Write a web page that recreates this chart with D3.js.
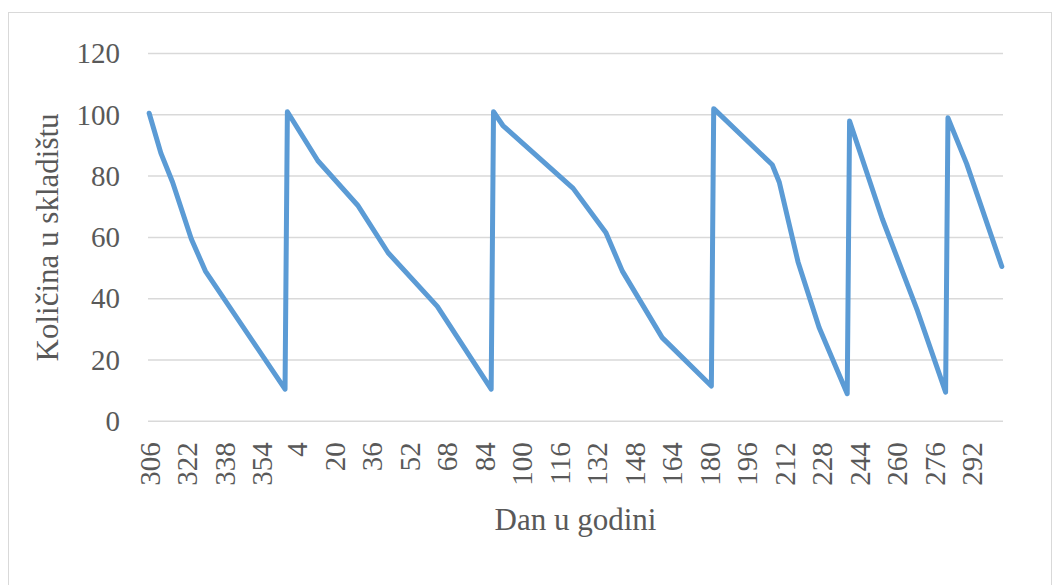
<!DOCTYPE html>
<html>
<head>
<meta charset="utf-8">
<script src="https://cdn.jsdelivr.net/npm/d3@7"></script>
<style>
  body { margin: 0; background: #fff; }
  text { font-family: "Liberation Serif", "Times New Roman", serif; fill: #595959; }
</style>
</head>
<body>
<div id="chart"></div>
<script>
// days of the year on the category axis: 306..365, then 1..305
var days = d3.range(306, 366).concat(d3.range(1, 306));
var tickDays = [306, 322, 338, 354, 4, 20, 36, 52, 68, 84, 100, 116, 132, 148, 164, 180, 196, 212, 228, 244, 260, 276, 292];
var yTicks = [0, 20, 40, 60, 80, 100, 120];

// stock level at the corners of the line
var keyDays = [306, 311, 316, 324, 330, 364, 365, 13, 30, 43, 64, 87, 88, 92, 122, 136, 143, 160, 181, 182, 207, 210, 218, 227, 239, 240, 254, 269, 281, 282, 290, 305];
var stock   = [100.5, 87.5, 78, 59.5, 49, 10.5, 101, 85, 70.5, 55, 37.5, 10.5, 101, 96.5, 76, 61.5, 49, 27.3, 11.5, 102, 83.7, 78, 52, 30.6, 9, 98, 66, 36, 9.5, 99, 84, 50.5];

var xTitle = "Dan u godini";
var yTitle = "Količina u skladištu";

(function() {
  var margin = { top: 53.5, left: 148, right: 61, bottom: 163 },
    width = 1064 - margin.left - margin.right,
    height = 585 - margin.top - margin.bottom - 0.7;

  var svg = d3.select("#chart")
    .append("svg")
    .attr("width", 1064)
    .attr("height", 585);

  svg.append("rect")
    .attr("x", 8.5).attr("y", 12.5)
    .attr("width", 1043).attr("height", 620)
    .attr("fill", "none")
    .attr("stroke", "#D9D9D9");

  var g = svg.append("g")
    .attr("transform", "translate(" + margin.left + "," + margin.top + ")");

  var xPositionScale = d3.scalePoint().domain(days).range([0, width]).padding(0.5);
  var yPositionScale = d3.scaleLinear().domain([0, 120]).range([height, 0]);

  // gridlines
  g.append("g")
    .attr("class", "grid")
    .selectAll("line")
    .data(yTicks)
    .enter().append("line")
    .attr("x1", 0).attr("x2", width)
    .attr("y1", function(d) { return yPositionScale(d); })
    .attr("y2", function(d) { return yPositionScale(d); })
    .attr("stroke", "#D9D9D9")
    .attr("stroke-width", 1.5);

  var yAxis = d3.axisLeft(yPositionScale).tickValues(yTicks).tickSize(0).tickPadding(28);
  var yg = g.append("g").attr("class", "axis y-axis").call(yAxis);
  yg.select(".domain").remove();
  yg.selectAll("text")
    .attr("font-size", 29)
    .attr("font-family", "Liberation Serif")
    .attr("fill", "#595959");

  var xAxis = d3.axisBottom(xPositionScale).tickValues(tickDays).tickSize(0);
  var xg = g.append("g")
    .attr("class", "axis x-axis")
    .attr("transform", "translate(0," + height + ")")
    .call(xAxis);
  xg.select(".domain").remove();
  xg.selectAll("text")
    .attr("font-size", 29)
    .attr("font-family", "Liberation Serif")
    .attr("fill", "#595959")
    .attr("text-anchor", "end")
    .attr("transform", "rotate(-90)")
    .attr("x", -21)
    .attr("y", 0)
    .attr("dy", "0.35em");

  var line = d3.line()
    .x(function(d) { return xPositionScale(d[0]); })
    .y(function(d) { return yPositionScale(d[1]); });

  var points = keyDays.map(function(d, i) { return [d, stock[i]]; });

  g.append("path")
    .datum(points)
    .attr("d", line)
    .attr("fill", "none")
    .attr("stroke", "#5B9BD5")
    .attr("stroke-width", 5)
    .attr("stroke-linejoin", "round")
    .attr("stroke-linecap", "round");

  svg.append("text")
    .attr("x", margin.left + width / 2)
    .attr("y", 530)
    .attr("text-anchor", "middle")
    .attr("font-size", 31)
    .text(xTitle);

  svg.append("text")
    .attr("transform", "translate(58," + (margin.top + height / 2) + ") rotate(-90)")
    .attr("text-anchor", "middle")
    .attr("font-size", 31)
    .text(yTitle);
})();
</script>
</body>
</html>
